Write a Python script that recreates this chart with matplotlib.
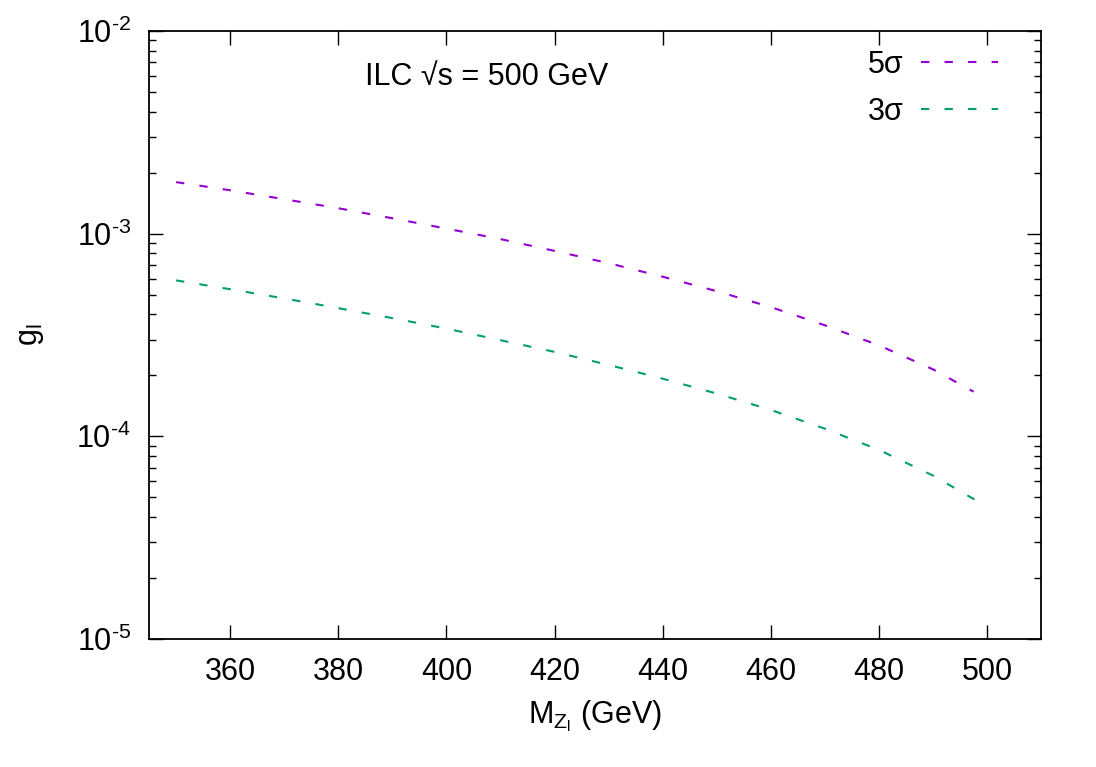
import numpy as np
import matplotlib
matplotlib.use("Agg")
import matplotlib.pyplot as plt
from matplotlib.ticker import LogLocator, FixedLocator, NullLocator, FuncFormatter

plt.rcParams['font.family'] = ['Liberation Sans', 'DejaVu Sans']
plt.rcParams['mathtext.fontset'] = 'custom'
plt.rcParams['mathtext.rm'] = 'Liberation Sans'
plt.rcParams['mathtext.it'] = 'Liberation Sans'
plt.rcParams['mathtext.default'] = 'regular'

# mass of Z_l in GeV
mass_5 = [350, 360, 370, 380, 390, 400, 410, 420, 430, 440, 450, 460, 470, 480, 490, 497.5]
g_5 = [1.796e-3, 1.637e-3, 1.479e-3, 1.335e-3, 1.191e-3, 1.059e-3, 9.40e-4, 8.22e-4,
       7.15e-4, 6.13e-4, 5.20e-4, 4.34e-4, 3.53e-4, 2.81e-4, 2.14e-4, 1.66e-4]

mass_3 = [350, 360, 370, 380, 390, 400, 410, 420, 430, 440, 450, 460, 470, 480, 490, 500]
g_3 = [5.88e-4, 5.32e-4, 4.79e-4, 4.29e-4, 3.83e-4, 3.40e-4, 2.98e-4, 2.61e-4,
       2.25e-4, 1.925e-4, 1.625e-4, 1.35e-4, 1.09e-4, 8.57e-5, 6.40e-5, 4.49e-5]

xticks = [360, 380, 400, 420, 440, 460, 480, 500]


def pow_label(v, pos):
    e = int(round(np.log10(v)))
    return r'10$^{\text{%d}}$' % e


fig = plt.figure(figsize=(10.96, 7.67), dpi=100)
ax = fig.add_axes([0.136, 0.1669, 0.814, 0.7927])

dash = (0, (4, 7.3))
ax.plot(mass_5, g_5, color='#9400D3', lw=1.5, linestyle=dash, label='5σ')
ax.plot(mass_3, g_3, color='#009E73', lw=1.5, linestyle=dash, label='3σ')

ax.set_yscale('log')
ax.set_xlim(345, 510)
ax.set_ylim(1e-5, 1e-2)
ax.xaxis.set_major_locator(FixedLocator(xticks))
ax.xaxis.set_minor_locator(NullLocator())
ax.yaxis.set_major_locator(LogLocator(base=10, numticks=10))
ax.yaxis.set_minor_locator(LogLocator(base=10, subs=np.arange(2, 10), numticks=10))
ax.yaxis.set_major_formatter(FuncFormatter(pow_label))

ax.tick_params(which='both', direction='in', top=True, right=True, labelsize=22, width=1.0)
ax.tick_params(which='major', length=10, pad=13)
ax.tick_params(which='minor', length=5)
for s in ax.spines.values():
    s.set_linewidth(1.3)

ax.set_xlabel(r'M$_{Z_l}$ (GeV)', fontsize=22, labelpad=8)
ax.set_ylabel(r'g$_l$', fontsize=22, labelpad=22)

ax.text(0.242, 0.924, 'ILC √s = 500 GeV', transform=ax.transAxes,
        fontsize=22, va='center', ha='left')

ax.legend(loc='upper right', bbox_to_anchor=(0.9518, 0.969), frameon=False,
          fontsize=22, markerfirst=False, handlelength=2.52, handletextpad=0.59,
          labelspacing=0.55, borderaxespad=0, borderpad=0)

fig.savefig('out.png', dpi=100)
